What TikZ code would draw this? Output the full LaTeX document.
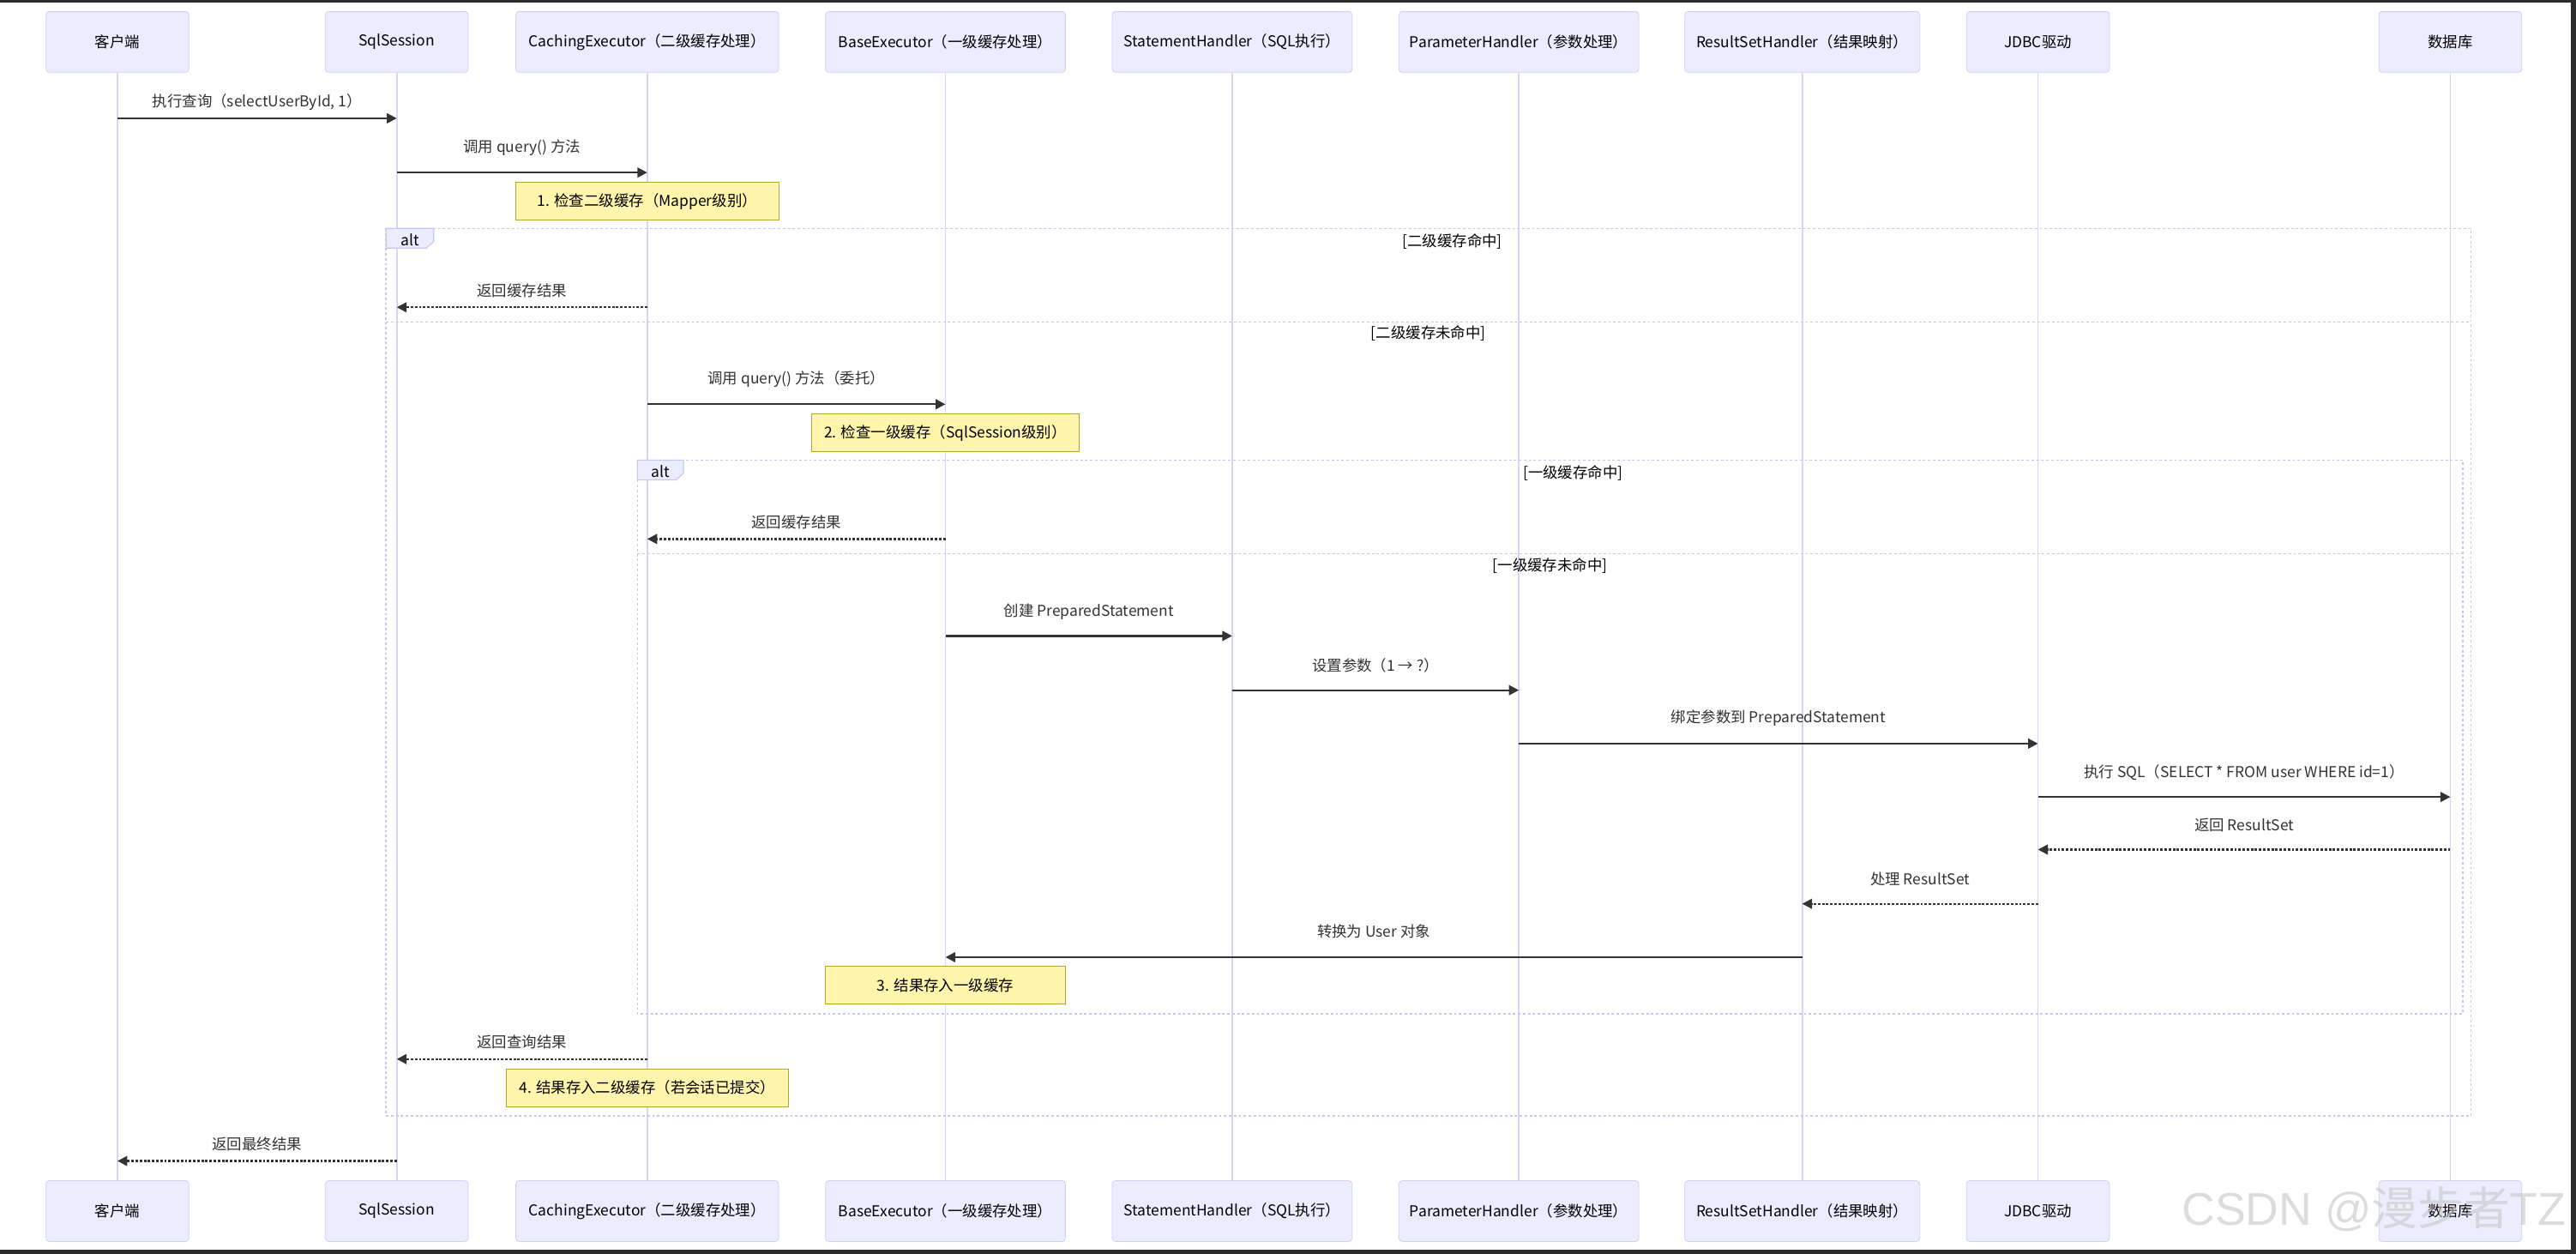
\documentclass[tikz,border=0pt]{standalone}
\usepackage{fontspec}
\newfontfamily\cjk{Noto Sans CJK SC}
\newfontfamily\wmfont{Liberation Sans}
\usetikzlibrary{arrows.meta}
\definecolor{boxfill}{HTML}{ECECFF}
\definecolor{boxline}{HTML}{D4CCF4}
\definecolor{lifeline}{HTML}{DCD4F6}
\definecolor{notefill}{HTML}{FFF5AD}
\definecolor{noteline}{HTML}{AAAA33}
\definecolor{framecol}{HTML}{CCC4F0}
\definecolor{arrowcol}{HTML}{333333}
\definecolor{edgecol}{HTML}{2B2B2B}

\begin{document}
\begin{tikzpicture}[
  x=1pt, y=-1pt,
  every node/.style={font=\cjk\fontsize{9.1}{11}\selectfont},
  actor/.style={draw=boxline, fill=boxfill, rounded corners=2pt, minimum height=37pt, inner sep=0pt},
  life/.style={draw=lifeline, line width=0.9pt},
  msg/.style={draw=arrowcol, line width=1.2pt, -{Triangle[length=6pt,width=6pt]}},
  ret/.style={msg, dash pattern=on 1.5pt off 1pt},
  lbl/.style={text=arrowcol, inner sep=1pt},
  note/.style={draw=noteline, fill=notefill, line width=0.6pt, minimum height=23pt, inner sep=0pt},
  frame/.style={draw=framecol, line width=0.8pt, dash pattern=on 1.5pt off 1.5pt},
  tab/.style={draw=framecol, fill=boxfill, line width=0.6pt},
  cond/.style={text=black, inner sep=1pt},
  wm/.style={font=\wmfont\fontsize{28}{30}\selectfont, text=gray!45, opacity=0.6, inner sep=0pt}
]
  \fill[white] (0,0) rectangle (1568,763);
  \useasboundingbox (0,0) rectangle (1568,763);

  % participants, top and bottom, with lifelines
  \foreach \n/\x/\w/\t in {cli/71.5/87/客户端, ses/241.5/87/SqlSession,
      cac/394/160/CachingExecutor（二级缓存处理）, bas/575.5/146/BaseExecutor（一级缓存处理）,
      sta/750/146/StatementHandler（SQL执行）, par/924.5/146/ParameterHandler（参数处理）,
      rsh/1097/143/ResultSetHandler（结果映射）, jdb/1240.5/87/JDBC驱动, db/1491.5/87/数据库} {
    \node[actor, minimum width=\w pt] (t\n) at (\x,25.5) {\t};
    \node[actor, minimum width=\w pt] (b\n) at (\x,737) {\t};
    \draw[life] (t\n) -- (b\n);
  }

  % alt frames
  \draw[frame] (235,139) rectangle (1504,679);
  \draw[frame] (235,196) -- (1504,196);
  \filldraw[tab] (235,139) -- (264,139) -- (264,147) -- (259.5,151) -- (235,151) -- cycle;
  \node[cond] (alt1) at (249.5,146) {alt};
  \node[cond] (c1) at (884,147) {[二级缓存命中]};
  \node[cond] (c2) at (869.5,203) {[二级缓存未命中]};

  \draw[frame] (388,280) rectangle (1499,617);
  \draw[frame] (388,337) -- (1499,337);
  \filldraw[tab] (388,280) -- (416,280) -- (416,288) -- (411.5,292) -- (388,292) -- cycle;
  \node[cond] (alt2) at (402,287) {alt};
  \node[cond] (c3) at (957.5,288) {[一级缓存命中]};
  \node[cond] (c4) at (943.5,344.5) {[一级缓存未命中]};

  % messages
  \foreach \a/\b/\y/\ly/\s/\t [count=\i] in {
      cli/ses/72/62/msg/{执行查询（selectUserById, 1）},
      ses/cac/105/90/msg/{调用 query() 方法},
      cac/ses/187/177/ret/{返回缓存结果},
      cac/bas/246/231/msg/{调用 query() 方法（委托）},
      bas/cac/328/318/ret/{返回缓存结果},
      bas/sta/387/372/msg/{创建 PreparedStatement},
      sta/par/420/405/msg/{设置参数（1 → ?）},
      par/jdb/452.5/437/msg/{绑定参数到 PreparedStatement},
      jdb/db/485/470/msg/{执行 SQL（SELECT * FROM user WHERE id=1）},
      db/jdb/517/502/ret/{返回 ResultSet},
      jdb/rsh/550/535/ret/{处理 ResultSet},
      rsh/bas/582.5/567/msg/{转换为 User 对象},
      cac/ses/644.5/634/ret/{返回查询结果},
      ses/cli/706.5/696/ret/{返回最终结果}} {
    \coordinate (y\i) at (0,\y);
    \draw[\s] (t\a |- y\i) -- (t\b |- y\i)
      node[lbl, midway, yshift={(\y-\ly)*1pt}] (m\i) {\t};
  }

  % notes
  \node[note, minimum width=160pt] (n1) at (394,122.5) {1. 检查二级缓存（Mapper级别）};
  \node[note, minimum width=163pt] (n2) at (575.5,263.5) {2. 检查一级缓存（SqlSession级别）};
  \node[note, minimum width=146pt] (n3) at (575.5,599.5) {3. 结果存入一级缓存};
  \node[note, minimum width=172pt] (n4) at (394,662) {4. 结果存入二级缓存（若会话已提交）};

  % screenshot edges and watermark
  \fill[edgecol] (0,0) rectangle (1568,1.5);
  \fill[edgecol] (1565,0) rectangle (1568,763);
  \fill[edgecol] (0,760.5) rectangle (1568,763);
  \node[wm] (mark) at (1445,736) {CSDN @{\cjk 漫步者}TZ};
\end{tikzpicture}
\end{document}
